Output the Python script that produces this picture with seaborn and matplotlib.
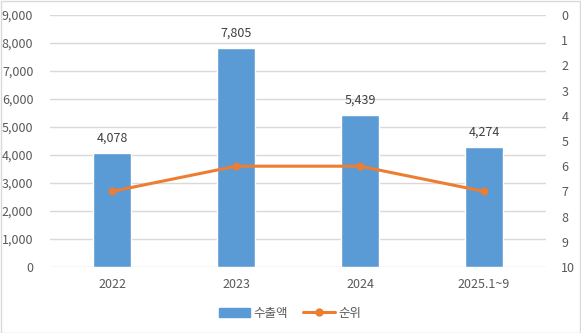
import matplotlib
matplotlib.use("Agg")
import matplotlib.pyplot as plt
import seaborn as sns
import numpy as np
import pandas as pd
from matplotlib.patches import Patch, Rectangle
from matplotlib.lines import Line2D

categories = ["2022", "2023", "2024", "2025.1~9"]
export_values = [4078, 7805, 5439, 4274]
ranks = [7, 6, 6, 7]
left_ticks = [0, 1000, 2000, 3000, 4000, 5000, 6000, 7000, 8000, 9000]
right_ticks = list(range(0, 11))

BAR = "#5B9BD5"
LINE = "#ED7D31"
TXT = "#595959"
GRID = "#D9D9D9"

sns.set_theme(style="white")
plt.rcParams["font.family"] = ["Noto Sans CJK KR", "DejaVu Sans"]

fig = plt.figure(figsize=(5.81, 3.33), dpi=100)
ax = fig.add_axes([50/581, 1-267/333, 496/581, 252/333])

df = pd.DataFrame({"cat": categories, "val": export_values, "rank": ranks})
sns.barplot(data=df, x="cat", y="val", color=BAR, width=0.31, ax=ax, saturation=1)
ax.set_ylim(0, 9000)
ax.set_yticks(left_ticks)
ax.set_yticklabels([f"{v:,}" for v in left_ticks])
ax.set_xlim(-0.5, 3.5)
ax.set_xlabel("")
ax.set_ylabel("")
ax.grid(axis="y", color=GRID, linewidth=1)
ax.set_axisbelow(True)
for s in ax.spines.values():
    s.set_visible(False)
ax.tick_params(axis="both", length=0, colors=TXT, labelsize=9)
ax.tick_params(axis="y", pad=12)
ax.tick_params(axis="x", pad=8)
for c in ax.containers:
    ax.bar_label(c, labels=[f"{v:,}" for v in export_values], padding=6, fontsize=9, color="#404040")

ax2 = ax.twinx()
sns.pointplot(data=df, x="cat", y="rank", color=LINE, ax=ax2, markers="o",
              markersize=4, linewidth=2.2)
ax2.set_ylim(10, 0)
ax2.set_yticks(right_ticks)
ax2.set_xlim(-0.5, 3.5)
ax2.set_ylabel("")
ax2.set_xlabel("")
for s in ax2.spines.values():
    s.set_visible(False)
ax2.tick_params(axis="y", length=0, colors=TXT, labelsize=9, pad=11)
ax2.grid(False)

handles = [Patch(facecolor=BAR, edgecolor=BAR),
           Line2D([0], [0], color=LINE, lw=2.2, marker="o", markersize=5)]
fig.legend(handles, ["수출액", "순위"], loc="center", bbox_to_anchor=(290/581, 1-313/333),
           ncol=2, frameon=False, fontsize=9, labelcolor=TXT, handlelength=2.5,
           columnspacing=1.2, handletextpad=0.3)

fig.patches.append(Rectangle((0.5/581, 0.5/333), 1-1.5/581, 1-1.5/333, transform=fig.transFigure,
                             fill=False, edgecolor=GRID, linewidth=1))

fig.savefig("out.png", dpi=100)
